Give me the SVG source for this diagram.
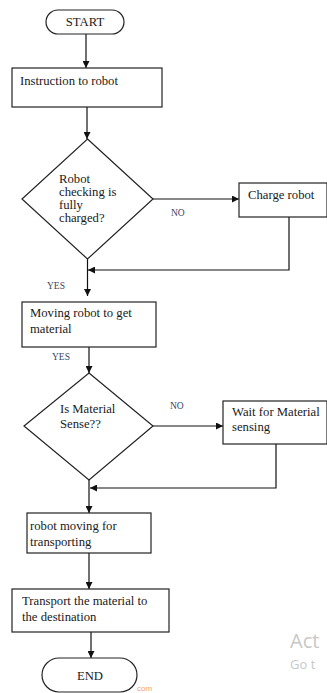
<svg xmlns="http://www.w3.org/2000/svg" width="327" height="693" viewBox="0 0 327 693">
<style>
.s{fill:#fff;stroke:#222;stroke-width:1.2}
.t{font-family:"Liberation Serif","Times New Roman",serif;font-size:12.7px;fill:#1a1a1a}
.l{font-family:"Liberation Serif","Times New Roman",serif;font-size:9.5px;fill:#3a4560}
.c{fill:none;stroke:#111;stroke-width:1.2}
</style>
<defs>
<marker id="a" viewBox="0 0 8 8" refX="8" refY="4" markerWidth="7" markerHeight="7" markerUnits="userSpaceOnUse" orient="auto">
<path d="M0,0 L8,4 L0,8 z" fill="#111"/>
</marker>
</defs>
<rect width="327" height="693" fill="#fff"/>
<g id="connectors">
<path class="c" d="M86,33 V68" marker-end="url(#a)"/>
<path class="c" d="M87,107 V139" marker-end="url(#a)"/>
<path class="c" d="M153,199 H239" marker-end="url(#a)"/>
<path class="c" d="M289,217 V270 H88" marker-end="url(#a)"/>
<path class="c" d="M87.5,259 V296" marker-end="url(#a)"/>
<path class="c" d="M89,347 V373" marker-end="url(#a)"/>
<path class="c" d="M153,426 H223" marker-end="url(#a)"/>
<path class="c" d="M276,444 V488 H90" marker-end="url(#a)"/>
<path class="c" d="M89,480 V513" marker-end="url(#a)"/>
<path class="c" d="M89,553 V589" marker-end="url(#a)"/>
<path class="c" d="M91,632 V658" marker-end="url(#a)"/>
<text class="l" x="171" y="216">NO</text>
<text class="l" x="47" y="289">YES</text>
<text class="l" x="52" y="360">YES</text>
<text class="l" x="170" y="409">NO</text>
</g>
<g id="start">
<rect class="s" x="46" y="10" width="78" height="24" rx="12"/>
<text class="t" x="85" y="26" text-anchor="middle">START</text>
</g>
<g id="instruction">
<rect class="s" x="12" y="68" width="150" height="39"/>
<text class="t" x="20" y="85">Instruction to robot</text>
</g>
<g id="check-charge">
<polygon class="s" points="87.5,139 153,199 87.5,259 22,199"/>
<text class="t" x="59" y="183">Robot</text>
<text class="t" x="59" y="196">checking is</text>
<text class="t" x="59" y="209">fully</text>
<text class="t" x="59" y="222">charged?</text>
</g>
<g id="charge">
<rect class="s" x="239" y="183" width="88" height="34"/>
<text class="t" x="248" y="199">Charge robot</text>
</g>
<g id="moving">
<rect class="s" x="22" y="302" width="134" height="45"/>
<text class="t" x="30" y="317">Moving robot to get</text>
<text class="t" x="30" y="333">material</text>
</g>
<g id="sense">
<polygon class="s" points="89,373 153,426 89,480 24,426"/>
<text class="t" x="60" y="413">Is Material</text>
<text class="t" x="60" y="428">Sense??</text>
</g>
<g id="wait">
<rect class="s" x="223" y="401" width="104" height="43"/>
<text class="t" x="232" y="416">Wait for Material</text>
<text class="t" x="232" y="431">sensing</text>
</g>
<g id="transport-move">
<rect class="s" x="27" y="513" width="124" height="40"/>
<text class="t" x="30" y="530">robot moving for</text>
<text class="t" x="30" y="546">transporting</text>
</g>
<g id="transport">
<rect class="s" x="12" y="589" width="157" height="43"/>
<text class="t" x="22" y="605">Transport the material to</text>
<text class="t" x="22" y="621">the destination</text>
</g>
<g id="end">
<rect class="s" x="42" y="658" width="95" height="34" rx="17"/>
<text class="t" x="90" y="680" text-anchor="middle">END</text>
</g>
<text x="137" y="691" font-family="Liberation Sans, Arial, sans-serif" font-size="8" fill="#f0a860">com</text>
<text x="290" y="648" font-family="Open Sans, sans-serif" font-size="20" fill="#c8c8c8">Act</text>
<text x="290" y="669" font-family="Open Sans, sans-serif" font-size="13" fill="#c8c8c8">Go t</text>
</svg>
